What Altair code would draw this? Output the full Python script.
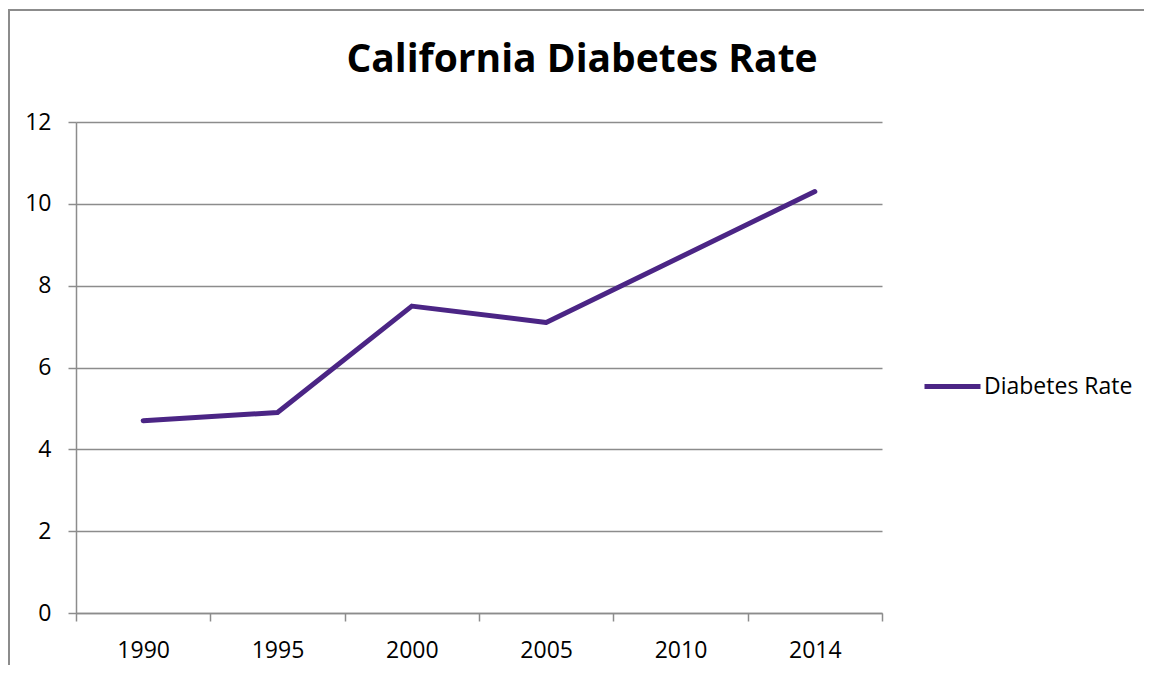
import altair as alt
import pandas as pd

years = ["1990", "1995", "2000", "2005", "2010", "2014"]
rates = [4.7, 4.9, 7.5, 7.1, 8.7, 10.3]
series = ["Diabetes Rate"] * len(years)
y_ticks = [0, 2, 4, 6, 8, 10, 12]
title_text = "California Diabetes Rate"

df = pd.DataFrame({"Year": years, "Rate": rates, "Series": series})

GRAY = "#8c8c8c"
FONT = "Open Sans"
PURPLE = "#4B2585"

line = alt.Chart(df).mark_line(strokeWidth=5, strokeCap="round", strokeJoin="round").encode(
    x=alt.X(
        "Year:N",
        sort=years,
        scale=alt.Scale(type="band", paddingInner=0, paddingOuter=0),
        axis=alt.Axis(
            title=None, labelAngle=0, tickBand="extent", grid=False,
            domainColor=GRAY, domainWidth=1.5, tickColor=GRAY, tickWidth=1.5,
            tickSize=8, labelPadding=18, labelFontSize=23, labelFont=FONT,
            labelColor="black",
        ),
    ),
    y=alt.Y(
        "Rate:Q",
        scale=alt.Scale(domain=[0, 12], nice=False),
        axis=alt.Axis(
            title=None, values=y_ticks, grid=True, gridColor=GRAY, gridWidth=1.5,
            domainColor=GRAY, domainWidth=1.5, tickColor=GRAY, tickWidth=1.5,
            tickSize=8, labelPadding=17, labelFontSize=23, labelFont=FONT,
            labelColor="black",
        ),
    ),
    color=alt.Color(
        "Series:N",
        scale=alt.Scale(range=[PURPLE]),
        legend=alt.Legend(
            title=None, orient="none", legendX=846, legendY=234,
            symbolType="stroke", symbolSize=3136, symbolStrokeWidth=5,
            labelFontSize=23, labelFont=FONT, labelColor="black",
            labelOffset=1, padding=0,
        ),
    ),
)

one = alt.Data(values=[{"a": 1}])
left_border = alt.Chart(one).mark_rule(color=GRAY, strokeWidth=2).encode(
    x=alt.value(-67), y=alt.value(-113), y2=alt.value(700)
)
top_border = alt.Chart(one).mark_rule(color=GRAY, strokeWidth=2).encode(
    x=alt.value(-68), x2=alt.value(1300), y=alt.value(-112)
)
title = alt.Chart(one).mark_text(
    text=title_text, font=FONT, fontSize=39, fontWeight="bold",
    align="center", baseline="alphabetic", color="black",
).encode(x=alt.value(506), y=alt.value(-50))

chart = alt.layer(left_border, top_border, line, title).properties(
    width=806, height=491,
    padding={"left": 68, "top": 114, "right": 262, "bottom": 52},
    autosize="none",
    background="white",
).configure_view(stroke=None)

chart.save("out.html", embed_options={"renderer": "svg", "actions": False})
